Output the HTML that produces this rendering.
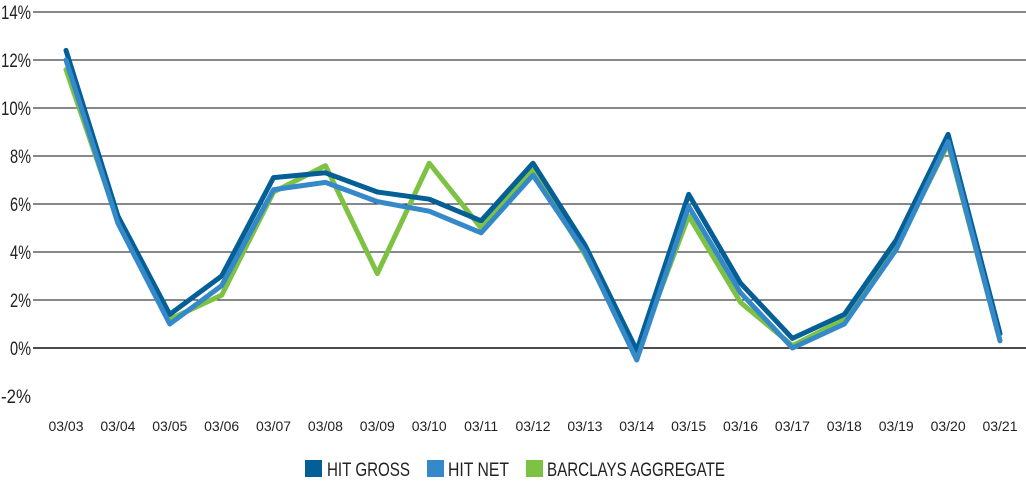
<!DOCTYPE html>
<html><head><meta charset="utf-8"><style>
body{margin:0;background:#fff;}
svg{display:block;font-family:"Liberation Sans",sans-serif;}
</style></head><body>
<svg id="chart" width="1026" height="482" viewBox="0 0 1026 482" xmlns="http://www.w3.org/2000/svg">
<g id="grid"></g>
<g id="series"></g>
<g id="xlabels"></g>
<g id="legend">
<rect x="305" y="460" width="17" height="17" fill="#045f96"/>
<text x="327" y="476" font-size="19" fill="#222" textLength="83" lengthAdjust="spacingAndGlyphs">HIT GROSS</text>
<rect x="427" y="460" width="17" height="17" fill="#3589c9"/>
<text x="448" y="476" font-size="19" fill="#222" textLength="61" lengthAdjust="spacingAndGlyphs">HIT NET</text>
<rect x="526" y="460" width="17" height="17" fill="#7dc242"/>
<text x="547" y="476" font-size="19" fill="#222" textLength="178" lengthAdjust="spacingAndGlyphs">BARCLAYS AGGREGATE</text>
</g>
</svg>
<script>
const categories=["03/03","03/04","03/05","03/06","03/07","03/08","03/09","03/10","03/11","03/12","03/13","03/14","03/15","03/16","03/17","03/18","03/19","03/20","03/21"];
const hitGross=[12.4,5.5,1.4,3.0,7.1,7.3,6.5,6.2,5.3,7.7,4.3,-0.1,6.4,2.7,0.4,1.4,4.5,8.9,0.6];
const hitNet=[12.0,5.2,1.0,2.6,6.6,6.9,6.1,5.7,4.8,7.2,4.0,-0.5,5.9,2.3,0.0,1.0,4.1,8.6,0.3];
const barclays=[11.6,5.3,1.2,2.2,6.5,7.6,3.1,7.7,5.0,7.4,3.9,-0.2,5.5,1.9,0.1,1.2,4.2,8.5,0.3];
const yTicks=[14,12,10,8,6,4,2,0,-2];
const NS="http://www.w3.org/2000/svg";
const x0=66,x1=1000,yZero=348,pxPer=24;
function xs(i){return x0+(x1-x0)*i/(categories.length-1);}
function ys(v){return yZero-v*pxPer;}
const grid=document.getElementById('grid');
yTicks.forEach(t=>{
  const l=document.createElementNS(NS,'line');
  
  
  l.setAttribute('x1',33);l.setAttribute('x2',1026);
  l.setAttribute('y1',ys(t));l.setAttribute('y2',ys(t));
  l.setAttribute('stroke','#111');l.setAttribute('stroke-width',t===0?1.6:1);
  if(t!==-2)grid.appendChild(l);
  const tx=document.createElementNS(NS,'text');
  
  
  const label=t+'%';
  tx.setAttribute('x',31);tx.setAttribute('y',ys(t)+7);
  tx.setAttribute('text-anchor','end');tx.setAttribute('font-size','19');tx.setAttribute('fill','#222');
  tx.setAttribute('textLength',label.length>=3?30:21);
  tx.setAttribute('lengthAdjust','spacingAndGlyphs');
  tx.textContent=label;
  grid.appendChild(tx);
});
const xl=document.getElementById('xlabels');
categories.forEach((c,i)=>{
  const tx=document.createElementNS(NS,'text');
  
  
  tx.setAttribute('x',xs(i));tx.setAttribute('y',431);
  tx.setAttribute('text-anchor','middle');tx.setAttribute('font-size','14');tx.setAttribute('fill','#222');
  tx.textContent=c;
  xl.appendChild(tx);
});
const sg=document.getElementById('series');
[[barclays,'#7dc242','barclays-line'],[hitGross,'#045f96','hit-gross-line'],[hitNet,'#3589c9','hit-net-line']].forEach(([d,col,name])=>{
  const p=document.createElementNS(NS,'polyline');
  
  
  p.setAttribute('points',d.map((v,i)=>xs(i)+','+ys(v)).join(' '));
  p.setAttribute('fill','none');p.setAttribute('stroke',col);p.setAttribute('stroke-width',5);
  p.setAttribute('stroke-linejoin','round');p.setAttribute('stroke-linecap','round');
  sg.appendChild(p);
});
</script>
</body></html>
